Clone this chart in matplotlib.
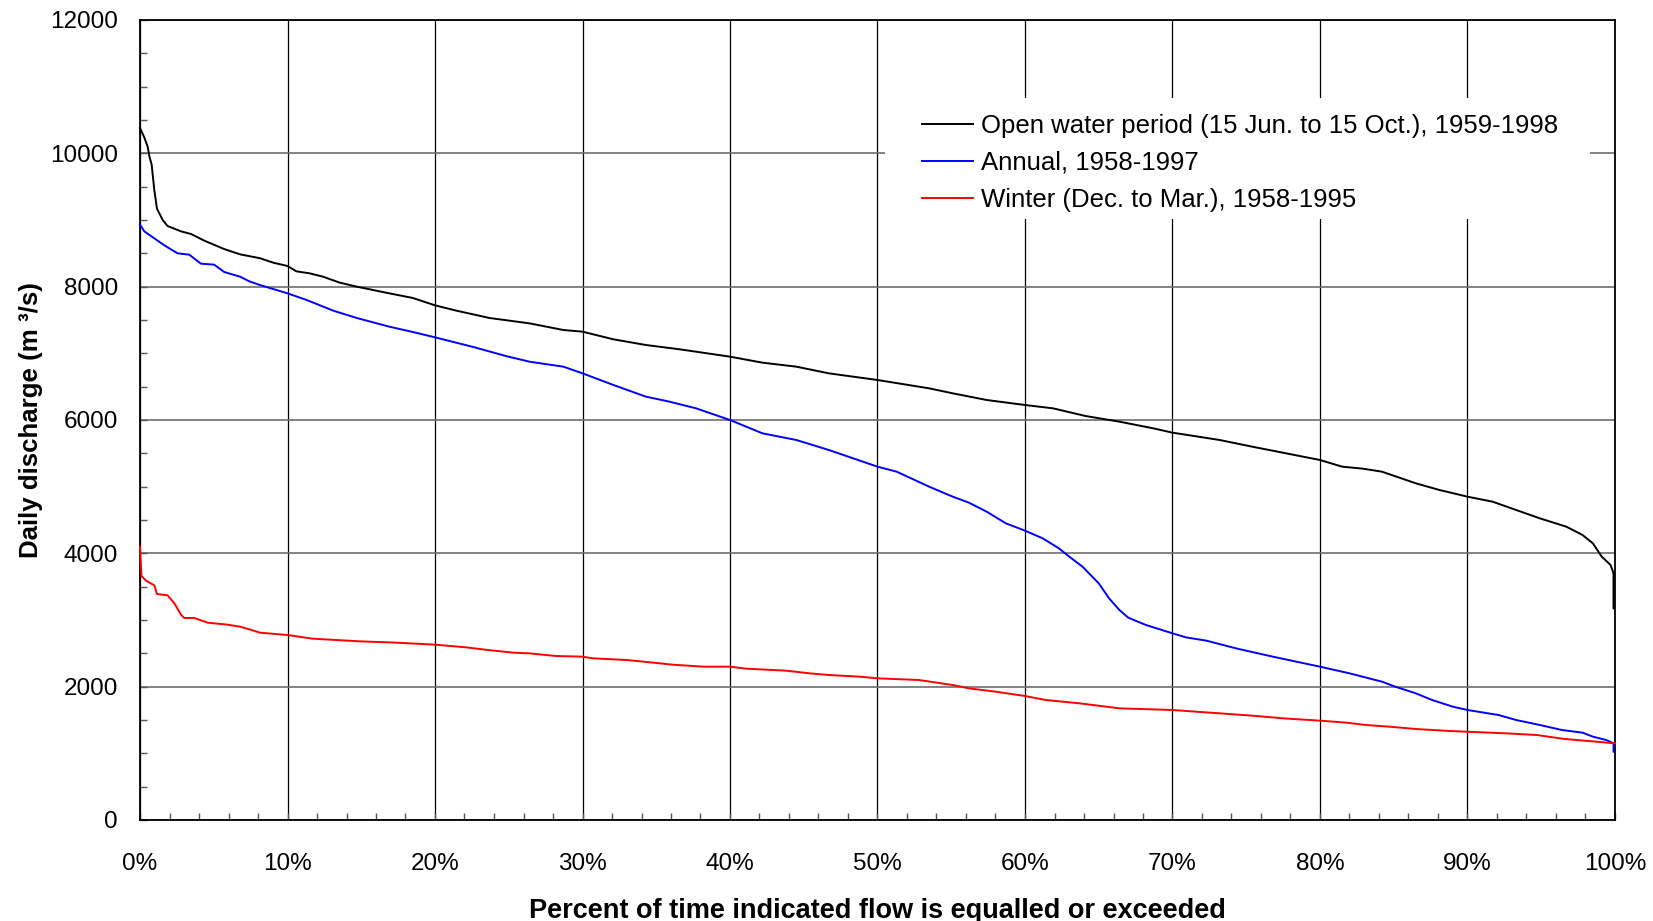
import matplotlib
matplotlib.use("Agg")
import matplotlib.pyplot as plt
from matplotlib.patches import Rectangle
from matplotlib.ticker import MultipleLocator, PercentFormatter

plt.rcParams.update({
    "font.family": ["Liberation Sans", "DejaVu Sans"],
    "font.size": 17,
})

# flow duration curves (percent of time, m3/s)
open_pct = [0, 0.29, 0.52, 0.63, 0.79, 0.97, 1.15, 1.54, 1.87, 2.78, 3.46, 4.36, 5.7,
            6.78, 8.13, 9.03, 10, 10.6, 11.5, 12.4, 13.55, 14.7, 16.9, 18.5, 20, 21.45,
            23.7, 26.4, 28.7, 30, 32.1, 34.3, 36.6, 40, 42.2, 44.5, 46.7, 50, 53.5, 55.1,
            57.4, 60, 61.9, 64.1, 66.4, 68.7, 70, 73.2, 75.4, 77.7, 80, 81.5, 82.9, 84.2,
            86.5, 88.1, 90, 91.7, 93.3, 94.9, 96.7, 97.8, 98.5, 99.1, 99.7, 99.9, 99.9]
open_q = [10380, 10240, 10100, 9960, 9830, 9450, 9170, 9000, 8910, 8830, 8790, 8690, 8565,
          8485, 8427, 8360, 8310, 8230, 8200, 8150, 8060, 8000, 7900, 7830, 7720, 7640,
          7530, 7450, 7350, 7325, 7210, 7125, 7060, 6950, 6860, 6800, 6700, 6600, 6475, 6400,
          6300, 6225, 6175, 6060, 5975, 5875, 5810, 5700, 5600, 5500, 5400, 5300, 5270, 5225,
          5050, 4950, 4850, 4775, 4650, 4525, 4400, 4275, 4150, 3950, 3825, 3700, 3175]

annual_pct = [0, 0.29, 0.97, 1.65, 2.55, 3.34, 4.13, 5.03, 5.71, 6.78, 7.41, 8.13, 10,
              11.3, 13.1, 14.7, 16.9, 18.5, 20, 22.6, 24.8, 26.4, 28.7, 30, 32.1, 34.3,
              35.9, 37.7, 40, 42.2, 44.5, 46.7, 50, 51.3, 53.5, 55.1, 56.2, 57.4, 58.7, 60,
              61.2, 62.3, 63, 63.9, 65, 65.7, 66.4, 67, 68.2, 70, 70.9, 72.3, 74.3, 76.6,
              78.4, 80, 82, 84.2, 85.1, 86.5, 87.6, 89, 90, 92.1, 93.3, 94.9, 96.4, 97.8,
              98.5, 99.4, 99.9, 99.9]
annual_q = [8930, 8830, 8725, 8620, 8500, 8480, 8345, 8330, 8220, 8150, 8080, 8025, 7900,
            7800, 7640, 7530, 7400, 7320, 7240, 7095, 6960, 6875, 6800, 6700, 6525, 6350,
            6275, 6175, 6000, 5800, 5700, 5550, 5300, 5225, 5000, 4850, 4760, 4625, 4450, 4340,
            4225, 4075, 3950, 3800, 3550, 3325, 3150, 3035, 2925, 2800, 2740, 2690, 2575, 2460,
            2375, 2300, 2200, 2075, 2000, 1900, 1800, 1700, 1650, 1575, 1500, 1425, 1350, 1310,
            1250, 1200, 1150, 1025]

winter_pct = [0, 0.1, 0.41, 0.97, 1.15, 1.87, 2.33, 2.78, 3.0, 3.68, 4.59, 5.94, 6.78, 7.41,
              8.13, 10, 11.7, 14.9, 17.4, 20, 22.1, 23.6, 25.3, 26.4, 28.2, 30, 30.7, 33,
              34.8, 36.1, 38.2, 40, 41.1, 43.8, 45.4, 46.7, 48.8, 50, 52.8, 55.1, 56.2, 58,
              60, 61.4, 63.7, 66.4, 70, 73.2, 75.7, 77.5, 80, 81.8, 83.1, 84.7, 86.5, 88.8,
              92.6, 94.7, 95.8, 96.6, 98.2, 100]
winter_q = [4100, 3660, 3590, 3520, 3390, 3370, 3250, 3080, 3030, 3030, 2960, 2930, 2900, 2860,
            2810, 2775, 2720, 2680, 2660, 2630, 2590, 2550, 2510, 2500, 2460, 2450, 2425, 2400,
            2360, 2330, 2300, 2300, 2270, 2240, 2200, 2175, 2150, 2125, 2100, 2025, 1975, 1925,
            1860, 1800, 1750, 1675, 1650, 1600, 1560, 1525, 1490, 1460, 1425, 1400, 1365, 1335,
            1300, 1275, 1240, 1215, 1185, 1150]

labels = ["Open water period (15 Jun. to 15 Oct.), 1959-1998",
          "Annual, 1958-1997",
          "Winter (Dec. to Mar.), 1958-1995"]

fig = plt.figure(figsize=(16.53, 9.21), dpi=100)
ax = fig.add_axes([140 / 1653, 1 - 820 / 921, 1475 / 1653, 800 / 921])

ax.plot(open_pct, open_q, color="black", lw=1.4, label=labels[0], zorder=3, clip_on=False)
ax.plot(annual_pct, annual_q, color="#0000ff", lw=1.4, label=labels[1], zorder=3, clip_on=False)
ax.plot(winter_pct, winter_q, color="#ff0000", lw=1.4, label=labels[2], zorder=3, clip_on=False)

ax.set_xlim(0, 100)
ax.set_ylim(0, 12000)
ax.xaxis.set_major_locator(MultipleLocator(10))
ax.xaxis.set_minor_locator(MultipleLocator(2))
ax.xaxis.set_major_formatter(PercentFormatter(xmax=100, decimals=0))
ax.yaxis.set_major_locator(MultipleLocator(2000))
ax.yaxis.set_minor_locator(MultipleLocator(500))

ax.set_axisbelow(True)
ax.grid(axis="y", which="major", color="#6e6e6e", lw=1.2)
ax.grid(axis="x", which="major", color="black", lw=0.9)
for sp in ax.spines.values():
    sp.set_linewidth(1.3)

ax.tick_params(which="both", direction="in", length=5, width=1, color="#555555")
ax.tick_params(axis="x", which="major", pad=23.5, labelsize=17.5)
ax.tick_params(axis="y", which="major", pad=16, labelsize=17.5)

ax.set_xlabel("Percent of time indicated flow is equalled or exceeded",
              fontsize=19.5, fontweight="bold")
ax.set_ylabel("Daily discharge (m \u00b3/s)", fontsize=18.6, fontweight="bold")
ax.xaxis.set_label_coords(0.5, -0.097)
ax.yaxis.set_label_coords(-0.066, 0.5)

# white box behind the legend hides the grid
ax.add_patch(Rectangle((0.505, 0.751), 0.478, 0.1515, transform=ax.transAxes,
                       facecolor="white", edgecolor="none", zorder=1))
ax.legend(loc="upper left", bbox_to_anchor=(0.530, 0.882), frameon=False,
          fontsize=18.5, handlelength=2.0, handletextpad=0.29, labelspacing=0.49,
          borderpad=0, borderaxespad=0)

fig.savefig("out.png", dpi=100)
